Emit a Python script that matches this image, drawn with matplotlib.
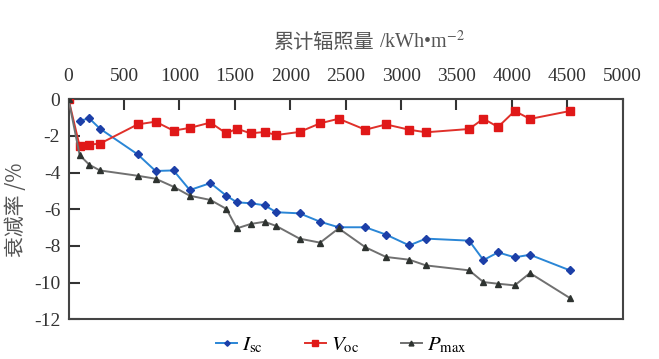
import matplotlib
matplotlib.use("Agg")
import matplotlib.pyplot as plt

plt.rcParams['mathtext.fontset'] = 'stix'
plt.rcParams['font.family'] = ['Liberation Serif', 'Noto Sans CJK SC', 'DejaVu Sans']

# Cumulative irradiation (kWh/m^2)
x_all = [0, 100, 187, 283, 623, 785, 947, 1094, 1280, 1424, 1519, 1643, 1769, 1874,
         2084, 2270, 2437, 2678, 2864, 3074, 3224, 3614, 3743, 3875, 4025, 4163, 4523]
x_isc = x_all[1:]

isc = [-1.17, -1.04, -1.60, -3.00, -3.91, -3.88, -4.95, -4.57, -5.26, -5.62, -5.67,
       -5.78, -6.16, -6.22, -6.68, -6.98, -6.98, -7.38, -7.97, -7.60, -7.71, -8.77,
       -8.35, -8.62, -8.48, -9.33]
voc = [0.0, -2.55, -2.47, -2.42, -1.37, -1.22, -1.71, -1.56, -1.27, -1.86, -1.60, -1.86,
       -1.78, -1.95, -1.78, -1.31, -1.06, -1.66, -1.37, -1.66, -1.80, -1.62, -1.06,
       -1.51, -0.64, -1.07, -0.64]
pmax = [0.0, -3.04, -3.57, -3.88, -4.17, -4.33, -4.77, -5.26, -5.49, -5.98, -7.04, -6.80,
        -6.68, -6.91, -7.60, -7.82, -7.04, -8.07, -8.60, -8.75, -9.06, -9.33, -9.97,
        -10.06, -10.15, -9.48, -10.84]

x_ticks = [0, 500, 1000, 1500, 2000, 2500, 3000, 3500, 4000, 4500, 5000]
y_ticks = [0, -2, -4, -6, -8, -10, -12]

fig = plt.figure(figsize=(6.59, 3.59), dpi=100)
ax = fig.add_axes([0.104, 0.1106, 0.841, 0.6128])

ax.plot(x_isc, isc, color='#2a86d6', lw=1.4, marker='D', ms=4,
        mfc='#1c3fa8', mec='#1c3fa8', label=r'$I_{\rm sc}$', zorder=3)
ax.plot(x_all, voc, color='#e0302a', lw=1.4, marker='s', ms=5.5,
        mfc='#e01818', mec='#e01818', label=r'$V_{\rm oc}$', zorder=3)
ax.plot(x_all, pmax, color='#707070', lw=1.4, marker='^', ms=5,
        mfc='#2e3330', mec='#2e3330', label=r'$P_{\rm max}$', zorder=3)

ax.set_xlim(0, 5000)
ax.set_ylim(-12, 0)
ax.xaxis.tick_top()
ax.set_xticks(x_ticks)
ax.set_yticks(y_ticks)
ax.set_xticklabels([str(v) for v in x_ticks])
ax.set_yticklabels([str(v) for v in y_ticks])
ax.tick_params(axis='both', direction='in', length=8, width=1.5, color='#333333',
               labelsize=14, labelcolor='#333333')
ax.tick_params(axis='x', pad=10)
ax.tick_params(axis='y', pad=6)
ax.xaxis.set_ticks_position('top')
for s in ax.spines.values():
    s.set_color('#444444')
    s.set_linewidth(1.5)

# top axis title: Chinese part (sans) + unit part (serif)
fig.text(375 / 659, 0.883, '累计辐照量', ha='right', va='center',
         fontsize=14.5, color='#555555', family=['Noto Sans CJK SC'])
fig.text(379 / 659, 0.883, '/kWh•m$^{-2}$', ha='left', va='center',
         fontsize=14.5, color='#555555')

fig.text(16 / 659, 1 - 210 / 359, '衰减率 /%', ha='center', va='center', rotation=90,
         fontsize=15, color='#555555', family=['Noto Sans CJK SC', 'DejaVu Sans'])

leg = fig.legend(loc='center', bbox_to_anchor=(0.518, 0.039), ncol=3, frameon=False,
                 fontsize=15, handlelength=1.0, columnspacing=2.0, handletextpad=0.25,
                 markerscale=0.7)

fig.savefig('out.png', dpi=100)
